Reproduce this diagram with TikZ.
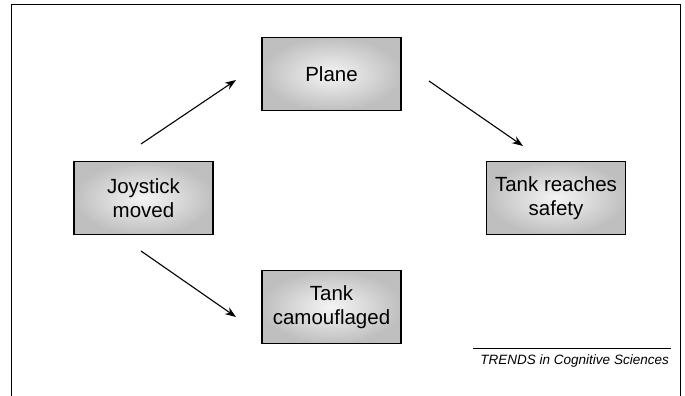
\documentclass[tikz,border=0pt]{standalone}
\usepackage{fontspec}
\setmainfont{Liberation Sans}
\usetikzlibrary{arrows.meta}
\begin{document}
\begin{tikzpicture}[x=1pt,y=-1pt,
  box/.style={draw=black,line width=1.2pt,inner sep=0pt,
    minimum width=139pt,minimum height=73pt,
    shading=radial,inner color=gray!8,outer color=gray!50,
    align=center,font=\fontsize{20.5}{23.5}\selectfont,text=black},
  arr/.style={line width=1.1pt,-{Stealth[length=11pt,width=8pt]}},
  frame/.style={line width=1pt}]
\useasboundingbox (0,0) rectangle (685,396);
\draw[frame] (11,396) -- (11,5) -- (680,5) -- (680,396);
\node[box] (plane) at (331.5,74) {Plane};
\node[box] (joy) at (143.5,198) {Joystick\\moved};
\node[box] (safe) at (556,198) {Tank reaches\\safety};
\node[box] (cam) at (331.5,307) {Tank\\camouflaged};
\coordinate (a1s) at (141,144); \coordinate (a1e) at (236,80);
\coordinate (a2s) at (429,81); \coordinate (a2e) at (523,146);
\coordinate (a3s) at (141,251); \coordinate (a3e) at (236,317);
\draw[arr] (a1s) -- (a1e);
\draw[arr] (a2s) -- (a2e);
\draw[arr] (a3s) -- (a3e);
\coordinate (l1) at (473,348); \coordinate (l2) at (671,348);
\draw[line width=0.8pt] (l1) -- (l2);
\node[anchor=base east,inner sep=0pt,font=\fontsize{13.5}{15}\selectfont\itshape] (trends) at (669,364) {TRENDS in Cognitive Sciences};
\end{tikzpicture}
\end{document}
